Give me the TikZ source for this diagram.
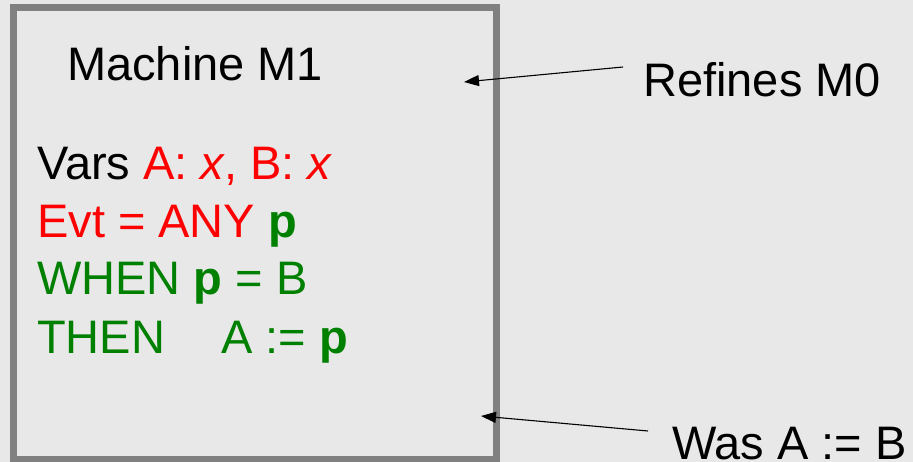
\documentclass[tikz,border=0pt]{standalone}
\usepackage{fontspec}
\setmainfont{Liberation Sans}
\usetikzlibrary{arrows.meta}
\definecolor{bgcol}{RGB}{232,232,232}
\definecolor{boxcol}{RGB}{128,128,128}
\definecolor{myred}{RGB}{255,0,0}
\definecolor{mygreen}{RGB}{0,128,0}
\tikzset{
  txt/.style={anchor=base west, inner sep=0pt, font=\fontsize{47}{56}\selectfont},
  pointer/.style={line width=1.1pt, -{Triangle[length=15pt,width=11pt]}},
}
\begin{document}
\begin{tikzpicture}[x=1pt,y=-1pt]
\fill[bgcol] (0,0) rectangle (913,462);
\useasboundingbox (0,0) rectangle (913,462);
\draw[boxcol, line width=7pt] (13,7.5) rectangle (496,459);
\node[txt] (title) at (67,81) {Machine M1};
\node[txt] (vars) at (37,180) {Vars \textcolor{myred}{A: \textit{x}, B: \textit{x}}};
\node[txt, text=myred] (evt) at (37,238) {Evt = ANY \textcolor{mygreen}{\textbf{p}}};
\node[txt, text=mygreen] (when) at (37,295) {WHEN \textbf{p} = B};
\node[txt, text=mygreen] (then) at (37,353) {THEN\hspace{56pt}A := \textbf{p}};
\node[txt] (refines) at (643,97) {Refines M0};
\node[txt] (was) at (672,459) {Was A := B};
\coordinate (r0) at (623,67);
\coordinate (r1) at (464,82);
\coordinate (w0) at (648,431);
\coordinate (w1) at (481,416);
\draw[pointer] (r0) -- (r1);
\draw[pointer] (w0) -- (w1);
\end{tikzpicture}
\end{document}
